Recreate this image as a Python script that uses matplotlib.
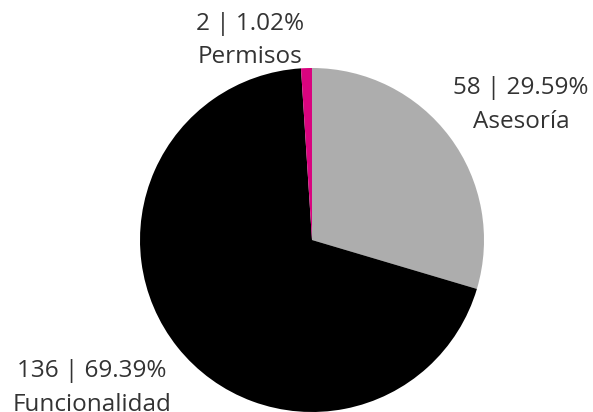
import matplotlib.pyplot as plt

# ticket counts by category
categories = ["Asesoría", "Funcionalidad", "Permisos"]
counts = [58, 136, 2]
colors = ["#adadad", "#000000", "#d9047f"]

# label placement in pie units (radius = 1)
label_pos = {
    "Asesoría": (1.215, 0.785),
    "Funcionalidad": (-1.28, -0.86),
    "Permisos": (-0.36, 1.16),
}

plt.rcParams["font.family"] = ["Open Sans", "DejaVu Sans"]

fig = plt.figure(figsize=(5.93, 4.12), dpi=100)
W, H = 593, 412
cx, cy, r = 312, 240, 172
ax = fig.add_axes([(cx - r) / W, (H - cy - r) / H, 2 * r / W, 2 * r / H])

ax.pie(counts, colors=colors, startangle=90, counterclock=False,
       radius=1, wedgeprops=dict(linewidth=0))
ax.set_xlim(-1, 1)
ax.set_ylim(-1, 1)
ax.set_aspect("equal")
ax.axis("off")

total = sum(counts)
for cat, n in zip(categories, counts):
    x, y = label_pos[cat]
    pct = n / total * 100
    ax.text(x, y, f"{n} | {pct:.2f}%\n{cat}", ha="center", va="center",
            fontsize=17.5, color="#333333", linespacing=1.55, clip_on=False)

fig.savefig("out.png", dpi=100)
